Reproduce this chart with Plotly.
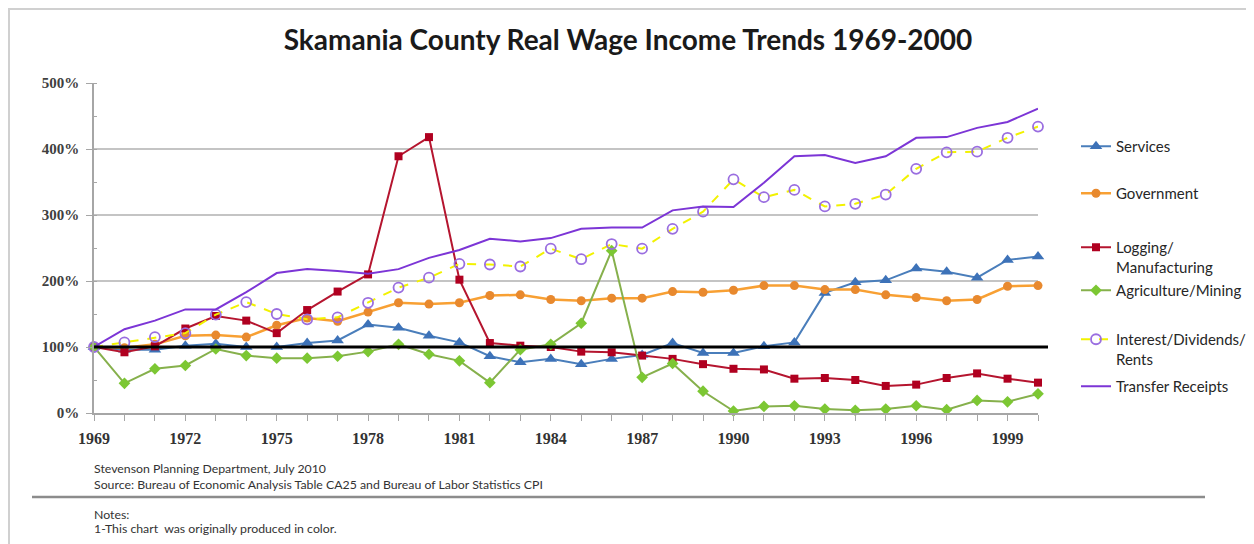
import plotly.graph_objects as go

years = list(range(1969, 2001))

services = [100, 96, 96, 102, 105, 100, 100, 106, 110, 134, 129, 117, 107, 86, 77, 82,
            74, 82, 88, 106, 91, 91, 101, 107, 182, 198, 201, 219, 214, 205, 232, 237]
government = [100, 99, 104, 117, 118, 115, 133, 144, 139, 153, 167, 165, 167, 178, 179, 172,
              170, 174, 174, 184, 183, 186, 193, 193, 187, 187, 179, 175, 170, 172, 192, 193]
logging = [100, 92, 101, 128, 147, 140, 121, 156, 184, 210, 389, 418, 202, 106, 102, 100,
           93, 92, 87, 82, 74, 67, 66, 52, 53, 50, 41, 43, 53, 60, 52, 46]
agriculture = [100, 45, 67, 72, 97, 87, 83, 83, 86, 93, 104, 89, 79, 46, 96, 104,
               136, 246, 54, 75, 33, 3, 10, 11, 6, 4, 6, 11, 5, 19, 17, 29]
interest = [100, 107, 115, 121, 149, 168, 150, 142, 145, 167, 190, 205, 226, 225, 222, 249,
            233, 256, 249, 279, 305, 354, 327, 338, 313, 317, 331, 370, 395, 396, 417, 434]
transfer = [100, 127, 140, 157, 157, 183, 212, 218, 215, 211, 218, 235, 247, 264, 260, 265,
            279, 281, 281, 307, 313, 312, 349, 389, 391, 379, 389, 417, 418, 432, 441, 461]

baseline = 100
label_years = list(range(1969, 2000, 3))

title_text = "Skamania County Real Wage Income Trends 1969-2000"
footer1 = "Stevenson Planning Department, July 2010"
footer2 = "Source: Bureau of Economic Analysis Table CA25 and Bureau of Labor Statistics CPI"
notes1 = "Notes:"
notes2 = "1-This chart  was originally produced in color."

# page has an 8px body margin; work in page coordinates and convert
OFF = 8
PAGE_W, PAGE_H = 1254, 544
W, H = PAGE_W - OFF, PAGE_H - OFF
L, R, T, B = 94, 1038, 83, 413  # plot area in page px


def px(x):
    return (x - L) / (R - L)


def py(y):
    return (B - y) / (B - T)


fig = go.Figure()

series = [
    ("Services", services, dict(color="#4a7ebb", width=2), dict(symbol="triangle-up", size=11, color="#3d72b8"), "legend", 147),
    ("Government", government, dict(color="#f8a033", width=2.5), dict(symbol="circle", size=9, color="#e8892e"), "legend2", 194),
    ("Logging/<br>Manufacturing", logging, dict(color="#b5152f", width=2), dict(symbol="square", size=8, color="#b00020"), "legend3", 248),
    ("Agriculture/Mining", agriculture, dict(color="#86b04c", width=2), dict(symbol="diamond", size=9, color="#7cc733"), "legend4", 291),
    ("Interest/Dividends/<br>Rents", interest, dict(color="#f2f200", width=2, dash="dash"), dict(symbol="circle-open", size=10, color="#9a6ee0", line=dict(width=1.8)), "legend5", 340),
    ("Transfer Receipts", transfer, dict(color="#7c35d6", width=2), None, "legend6", 387),
]

layout_legends = {}
for name, vals, line, marker, lg, ycen in series:
    fig.add_trace(go.Scatter(
        x=years, y=vals, name=name,
        mode="lines+markers" if marker else "lines",
        line=line, marker=marker, cliponaxis=False, legend=lg, showlegend=True,
    ))
    layout_legends[lg] = dict(
        x=px(1076), y=py(ycen - 17), xanchor="left", yanchor="top",
        bgcolor="rgba(0,0,0,0)", valign="top", visible=True,
        font=dict(family="Lato", size=15, color="#262626"),
        itemwidth=30,
    )

shapes = [
    dict(type="rect", xref="paper", yref="paper", x0=px(9), x1=px(1251), y0=py(570), y1=py(9),
         line=dict(color="#d0d0d0", width=2), layer="below"),
    dict(type="line", xref="paper", yref="y", x0=0, x1=px(1048), y0=baseline, y1=baseline,
         line=dict(color="black", width=3)),
    dict(type="line", xref="paper", yref="paper", x0=px(32), x1=px(1205), y0=py(497), y1=py(497),
         line=dict(color="#8c8c8c", width=2.5)),
]

foot_font = dict(family="Lato", size=12.3, color="#333333")
annotations = [
    dict(text=t, x=px(92), y=py(yy), xref="paper", yref="paper", xanchor="left", yanchor="middle",
         showarrow=False, font=foot_font)
    for t, yy in [(footer1, 468), (footer2, 484), (notes1, 514), (notes2, 528)]
]

fig.update_layout(
    width=W, height=H, showlegend=True,
    margin=dict(l=L - OFF, r=PAGE_W - R, t=T - OFF, b=PAGE_H - B, pad=0, autoexpand=False),
    paper_bgcolor="white", plot_bgcolor="white",
    title=dict(text=title_text, x=(628 - OFF) / W, xref="container", xanchor="center",
               y=1 - (40 - OFF) / H, yref="container", yanchor="middle",
               font=dict(family="Lato", size=28, color="#1a1a1a", weight="bold")),
    shapes=shapes, annotations=annotations,
    **layout_legends,
)

fig.update_xaxes(
    range=[1969, 2000], tickvals=label_years, ticktext=[str(v) for v in label_years],
    showgrid=False, showline=True, linecolor="#a6a6a6", linewidth=1.5,
    ticks="outside", ticklen=6, tickcolor="#a6a6a6", ticklabelstandoff=4,
    minor=dict(tick0=1969, dtick=1, ticks="outside", ticklen=6, tickcolor="#a6a6a6"),
    tickfont=dict(family="Liberation Serif", size=16, color="#333333", weight="bold"),
    zeroline=False,
)
fig.update_yaxes(
    range=[0, 500], dtick=100, ticksuffix="%",
    showgrid=True, gridcolor="#c4c4c4", gridwidth=2,
    showline=True, linecolor="#a6a6a6", linewidth=1.5,
    ticks="outside", ticklen=6, tickcolor="#a6a6a6", ticklabelstandoff=4,
    minor=dict(dtick=50, ticks="inside", ticklen=3, tickcolor="#a6a6a6", showgrid=False),
    tickfont=dict(family="Liberation Serif", size=15, color="#404040", weight="bold"),
    zeroline=False,
)

fig.write_html("out.html")
